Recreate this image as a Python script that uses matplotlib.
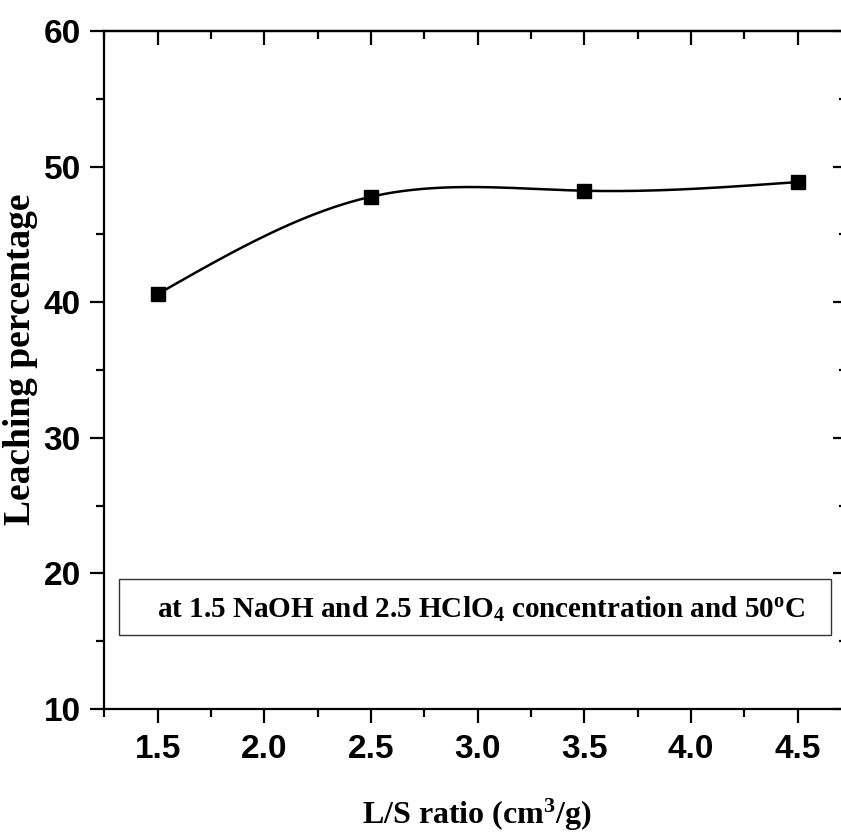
import numpy as np
import matplotlib
matplotlib.use("Agg")
import matplotlib.pyplot as plt
from matplotlib.ticker import MultipleLocator
from matplotlib.patches import Rectangle

# ---- data ----
ls_ratio = [1.5, 2.5, 3.5, 4.5]
leaching = [40.6, 47.78, 48.22, 48.86]
x_ticks = [1.5, 2.0, 2.5, 3.0, 3.5, 4.0, 4.5]
y_ticks = [10, 20, 30, 40, 50, 60]
x_label = "L/S ratio (cm$^{3}$/g)"
y_label = "Leaching percentage"
note = "at 1.5 NaOH and 2.5 HClO$_{4}$ concentration and 50$^{\\mathrm{o}}$C"

plt.rcParams["mathtext.fontset"] = "custom"
plt.rcParams["mathtext.rm"] = "Liberation Serif:bold"
plt.rcParams["mathtext.it"] = "Liberation Serif:bold"
plt.rcParams["mathtext.bf"] = "Liberation Serif:bold"


def natural_spline(x, y, n=300):
    x = np.asarray(x, float)
    y = np.asarray(y, float)
    k = len(x)
    h = np.diff(x)
    A = np.zeros((k, k))
    b = np.zeros(k)
    A[0, 0] = 1
    A[-1, -1] = 1
    for i in range(1, k - 1):
        A[i, i - 1] = h[i - 1]
        A[i, i] = 2 * (h[i - 1] + h[i])
        A[i, i + 1] = h[i]
        b[i] = 6 * ((y[i + 1] - y[i]) / h[i] - (y[i] - y[i - 1]) / h[i - 1])
    M = np.linalg.solve(A, b)
    xs = np.linspace(x[0], x[-1], n)
    ys = np.empty_like(xs)
    for j, xv in enumerate(xs):
        i = min(np.searchsorted(x, xv, side="right") - 1, k - 2)
        t1 = x[i + 1] - xv
        t0 = xv - x[i]
        ys[j] = (M[i] * t1 ** 3 / (6 * h[i]) + M[i + 1] * t0 ** 3 / (6 * h[i])
                 + (y[i] / h[i] - M[i] * h[i] / 6) * t1
                 + (y[i + 1] / h[i] - M[i + 1] * h[i] / 6) * t0)
    return xs, ys


W, H = 841, 834
fig = plt.figure(figsize=(W / 100, H / 100), dpi=100)
left_px, right_px, top_px, bot_px = 104.4, 847, 31, 709
ax = fig.add_axes([left_px / W, 1 - bot_px / H, (right_px - left_px) / W, (bot_px - top_px) / H])

xs, ys = natural_spline(ls_ratio, leaching)
ax.plot(xs, ys, color="black", lw=1.8, zorder=2)
ax.plot(ls_ratio, leaching, "s", color="black", ms=10, zorder=3)

ax.set_xlim(1.25, 1.25 + (right_px - left_px) / 213.3)
ax.set_ylim(10, 60)
ax.set_xticks(x_ticks)
ax.set_yticks(y_ticks)
ax.set_xticklabels([f"{v:.1f}" for v in x_ticks])
ax.set_yticklabels([str(v) for v in y_ticks])
ax.xaxis.set_minor_locator(MultipleLocator(0.25))
ax.yaxis.set_minor_locator(MultipleLocator(5))

for s in ax.spines.values():
    s.set_linewidth(1.6)

ax.tick_params(which="major", direction="out", length=10, width=1.6,
               top=False, right=False)
ax.tick_params(which="minor", direction="out", length=5.5, width=1.6,
               top=False, right=False)
ax.tick_params(axis="y", which="major", pad=7)
ax.tick_params(axis="x", which="major", pad=8)
for lab in ax.get_xticklabels() + ax.get_yticklabels():
    lab.set_fontfamily("Liberation Sans")
    lab.set_fontweight("bold")
    lab.set_fontsize(24)

secx = ax.secondary_xaxis("top")
secx.set_xticks(x_ticks)
secx.xaxis.set_minor_locator(MultipleLocator(0.25))
secx.tick_params(which="major", direction="in", length=10, width=1.6,
                 labeltop=False, labelbottom=False)
secx.tick_params(which="minor", direction="in", length=5.5, width=1.6)
secx.spines["top"].set_linewidth(1.6)

secy = ax.secondary_yaxis("right")
secy.set_yticks(y_ticks)
secy.yaxis.set_minor_locator(MultipleLocator(5))
secy.tick_params(which="major", direction="in", length=10, width=1.6,
                 labelright=False, labelleft=False)
secy.tick_params(which="minor", direction="in", length=5.5, width=1.6)
secy.spines["right"].set_linewidth(1.6)

# annotation box
ax_w = right_px - left_px
ax_h = bot_px - top_px
bx0, bx1, by_top, by_bot = 119, 831, 579, 635
ax.add_patch(Rectangle(((bx0 - left_px) / ax_w, (bot_px - by_bot) / ax_h),
                       (bx1 - bx0) / ax_w, (by_bot - by_top) / ax_h,
                       transform=ax.transAxes, fill=False, edgecolor="#333333",
                       lw=1.0, zorder=4))
ax.text((157 - left_px) / ax_w, (bot_px - 618) / ax_h, note,
        transform=ax.transAxes, ha="left", va="baseline",
        fontfamily="Liberation Serif", fontweight="bold", fontsize=21, zorder=5)

fig.text(21 / W, 1 - 359 / H, y_label, rotation=90, ha="center", va="center",
         fontfamily="Liberation Serif", fontweight="bold", fontsize=27)
fig.text(477 / W, 1 - 824 / H, x_label, ha="center", va="baseline",
         fontfamily="Liberation Serif", fontweight="bold", fontsize=23)

fig.savefig("out.png", dpi=100, facecolor="white")
